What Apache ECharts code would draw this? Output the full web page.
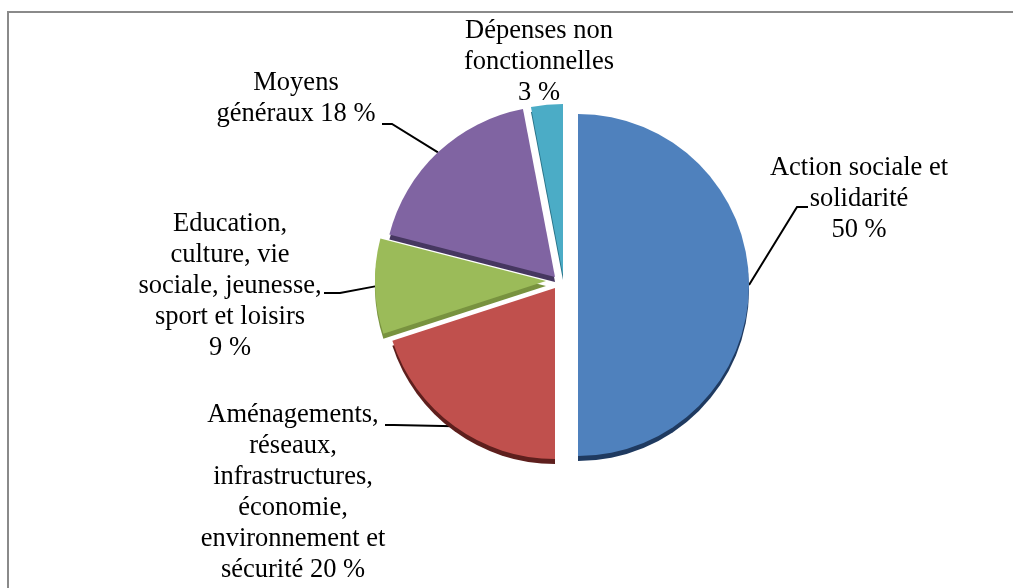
<!DOCTYPE html>
<html>
<head>
<meta charset="utf-8">
<script src="https://cdn.jsdelivr.net/npm/echarts@6/dist/echarts.min.js"></script>
<style>
html, body { margin: 0; padding: 0; background: #fff; }
#chart { width: 1013px; height: 588px; }
</style>
</head>
<body>
<div id="chart"></div>
<script>
// libellés (retours à la ligne comme sur le graphique) et parts en %
const names = [
    'Action sociale et\nsolidarité\n',
    'Aménagements,\nréseaux,\ninfrastructures,\néconomie,\nenvironnement et\nsécurité ',
    'Education,\nculture, vie\nsociale, jeunesse,\nsport et loisirs\n',
    'Moyens\ngénéraux ',
    'Dépenses non\nfonctionnelles\n'
]
const values = [50, 20, 9, 18, 3]

const colors = ['#4f81bd', '#c0504d', '#9bbb59', '#8064a2', '#4bacc6']
const edgeColors = ['#1f3a60', '#5e1f1d', '#78923f', '#463760', '#2a7388']
// chaque part est un peu décalée (effet "éclaté")
const centers = [[578, 285], [555, 288], [546, 281], [555, 277], [563, 275]]
const labelPos = [[859, 199], [293, 493], [230, 286], [296, 99], [539, 62]]
// fin des traits de rappel : [coude, extrémité côté texte]
const leaderEnds = [
    [[797, 207], [808, 207]],
    [[394, 425], [385, 425]],
    [[340, 293], [324, 293]],
    [[392, 124], [382, 124]],
    null
]
const drawOrder = [1, 2, 3, 4, 0]

function sliceSeries(k) {
    return {
        type: 'pie',
        center: centers[k],
        radius: 171,
        startAngle: 90,
        clockwise: true,
        avoidLabelOverlap: false,
        silent: true,
        data: values.map((v, i) => ({
            name: names[i],
            value: v,
            itemStyle: i === k
                ? { color: colors[i], shadowColor: edgeColors[i], shadowOffsetY: 5, shadowBlur: 0 }
                : { opacity: 0 },
            label: { show: i === k },
            labelLine: { show: i === k && k !== 4 }
        })),
        label: {
            formatter: p => p.name + p.value + ' %',
            fontFamily: 'Liberation Serif',
            fontSize: 26.5,
            lineHeight: 31,
            color: '#000'
        },
        labelLine: {
            length: 15,
            length2: 10,
            lineStyle: { color: '#000', width: 2 }
        },
        labelLayout: function (params) {
            const res = {
                x: labelPos[k][0],
                y: labelPos[k][1],
                align: 'center',
                verticalAlign: 'middle'
            }
            if (leaderEnds[k] && params.labelLinePoints) {
                res.labelLinePoints = [params.labelLinePoints[0]].concat(leaderEnds[k])
            }
            return res
        }
    }
}

const myChart = echarts.init(document.getElementById('chart'))
const option = {
    animation: false,
    backgroundColor: '#fff',
    graphic: [{
        type: 'rect',
        shape: { x: 8, y: 12, width: 1100, height: 700 },
        style: { fill: 'none', stroke: '#8a8a8a', lineWidth: 2 }
    }],
    series: drawOrder.map(sliceSeries)
}
myChart.setOption(option)
window.addEventListener('resize', function () {
    myChart.resize()
})
</script>
</body>
</html>
